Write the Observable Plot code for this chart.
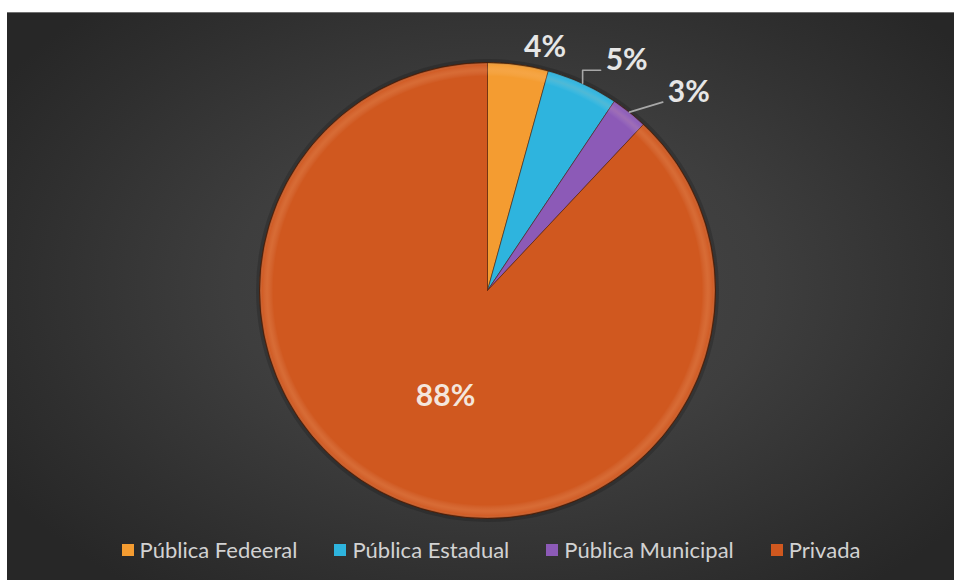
<!DOCTYPE html>
<html>
<head>
<meta charset="utf-8">
<script src="https://cdn.jsdelivr.net/npm/d3@7"></script>
<script src="https://cdn.jsdelivr.net/npm/@observablehq/plot@0.6"></script>
<style>
  html, body { margin: 0; padding: 0; background: #ffffff; }
  #wrap { position: relative; width: 954px; height: 580px; overflow: hidden; }
  #panel {
    position: absolute; left: 7px; top: 12px; right: 0; bottom: 0;
    background: radial-gradient(ellipse 62% 68% at 52% 48%, #484848 0%, #3e3e3e 45%, #2f2f2f 80%, #272727 100%);
    border-top: 1px solid #707070;
  }
  #chart { position: absolute; left: 0; top: 0; }
  #legend { position: absolute; left: 14px; top: 533px; width: 954px; display: flex; justify-content: center; }
  #legend div { font-family: "Lato", sans-serif !important; font-size: 22px !important; color: #d2d2d2 !important;
    margin: 0 !important; justify-content: center; }
  #legend span { margin-right: 37px !important; }
  #legend span:last-child { margin-right: 0 !important; }
  #legend svg { margin-right: 6px !important; }
</style>
</head>
<body>
<div id="wrap">
  <div id="panel"></div>
  <div id="chart"></div>
  <div id="legend"></div>
</div>
<script>
// ---- data ----
const categories = ["Pública Fedeeral", "Pública Estadual", "Pública Municipal", "Privada"];
const shares = [4.3, 5.1, 2.6, 88.0];
const percentLabels = ["4%", "5%", "3%", "88%"];
const colors = ["#F49C31", "#2EB4DE", "#8C5AB7", "#D0581F"];

// ---- layout ----
const W = 954, H = 580, CX = 487, CY = 290, R = 228;

const rows = categories.map((c, i) => ({category: c, share: shares[i], label: percentLabels[i]}));
const arcs = d3.pie().sort(null).value(d => d.share)(rows);

// slice outlines (unit circle, y up)
const slicePts = arcs.flatMap(a => {
  const span = a.endAngle - a.startAngle;
  const n = Math.max(2, Math.ceil(span / (Math.PI / 360)));
  const pts = [{category: a.data.category, x: 0, y: 0}];
  for (let k = 0; k <= n; k++) {
    const t = a.startAngle + span * k / n;
    pts.push({category: a.data.category, x: Math.sin(t), y: Math.cos(t)});
  }
  pts.push({category: a.data.category, x: 0, y: 0});
  return pts;
});

// labels
const insideLabels = [], outsideLabels = [], leaderPts = [];
arcs.forEach((a, i) => {
  const mid = (a.startAngle + a.endAngle) / 2;
  if (a.data.share > 50) {
    insideLabels.push({text: a.data.label, x: 0.5 * Math.sin(mid), y: 0.5 * Math.cos(mid)});
    return;
  }
  const offPx = 12 + 45 * Math.sin(mid);
  const ang = mid + (6 * Math.PI / 180) * Math.sin(mid);
  const r = 1 + offPx / R;
  const lx = r * Math.sin(ang), ly = r * Math.cos(ang);
  outsideLabels.push({text: a.data.label, x: lx, y: ly});
  if (offPx > 20) {
    const ax = Math.sin(mid), ay = Math.cos(mid);
    const px = lx - 5 / R, py = ly - 10 / R;
    const id = a.data.category;
    leaderPts.push({id, x: ax, y: ay});
    if (Math.abs(px - ax) * R < 20) leaderPts.push({id, x: ax, y: py});
    leaderPts.push({id, x: px, y: py});
  }
});

const chart = Plot.plot({
  width: W, height: H,
  margin: 0,
  style: {background: "transparent", overflow: "visible"},
  x: {axis: null, domain: [-CX / R, (W - CX) / R], range: [0, W]},
  y: {axis: null, domain: [-(H - CY) / R, CY / R], range: [H, 0]},
  color: {type: "categorical", domain: categories, range: colors},
  marks: [
    // soft shadow ring around pie
    Plot.dot([{x: 0, y: 0}], {x: "x", y: "y", r: R + 1.5, fill: "none", stroke: "#000", strokeOpacity: 0.16, strokeWidth: 4}),
    Plot.line(slicePts, {x: "x", y: "y", z: "category", fill: "category", stroke: "#4a1c06", strokeOpacity: 0.5, strokeWidth: 1, curve: "linear"}),
    // bevel rim overlay
    Plot.dot([{x: 0, y: 0}], {x: "x", y: "y", r: R, fill: "url(#rimGrad)", stroke: "#3a1604", strokeOpacity: 0.55, strokeWidth: 1}),
    Plot.line(leaderPts, {x: "x", y: "y", z: "id", stroke: "#a8a8a8", strokeWidth: 1.6, curve: "linear"}),
    Plot.text(outsideLabels, {x: "x", y: "y", text: "text", textAnchor: "start", lineAnchor: "middle",
      fontSize: 30, fontWeight: "bold", fontFamily: "Lato", fill: "#e6e6e6"}),
    Plot.text(insideLabels, {x: "x", y: "y", text: "text", textAnchor: "middle", lineAnchor: "middle",
      fontSize: 30, fontWeight: "bold", fontFamily: "Lato", fill: "#f4e6dc"})
  ]
});

// gradient definition for rim
const NS = "http://www.w3.org/2000/svg";
const defs = document.createElementNS(NS, "defs");
const rg = document.createElementNS(NS, "radialGradient");
rg.setAttribute("id", "rimGrad");
[[0, "#ffffff", 0], [0.94, "#ffffff", 0], [0.967, "#ffd2a8", 0.16], [0.988, "#ffffff", 0.03], [1, "#000000", 0.3]]
  .forEach(([o, c, op]) => {
    const s = document.createElementNS(NS, "stop");
    s.setAttribute("offset", o);
    s.setAttribute("stop-color", c);
    s.setAttribute("stop-opacity", op);
    rg.appendChild(s);
  });
defs.appendChild(rg);
chart.insertBefore(defs, chart.firstChild);
document.getElementById("chart").appendChild(chart);

const legend = Plot.legend({
  color: {type: "categorical", domain: categories, range: colors},
  legend: "swatches", swatchSize: 12, className: "lg"
});
document.getElementById("legend").appendChild(legend);
</script>
</body>
</html>
